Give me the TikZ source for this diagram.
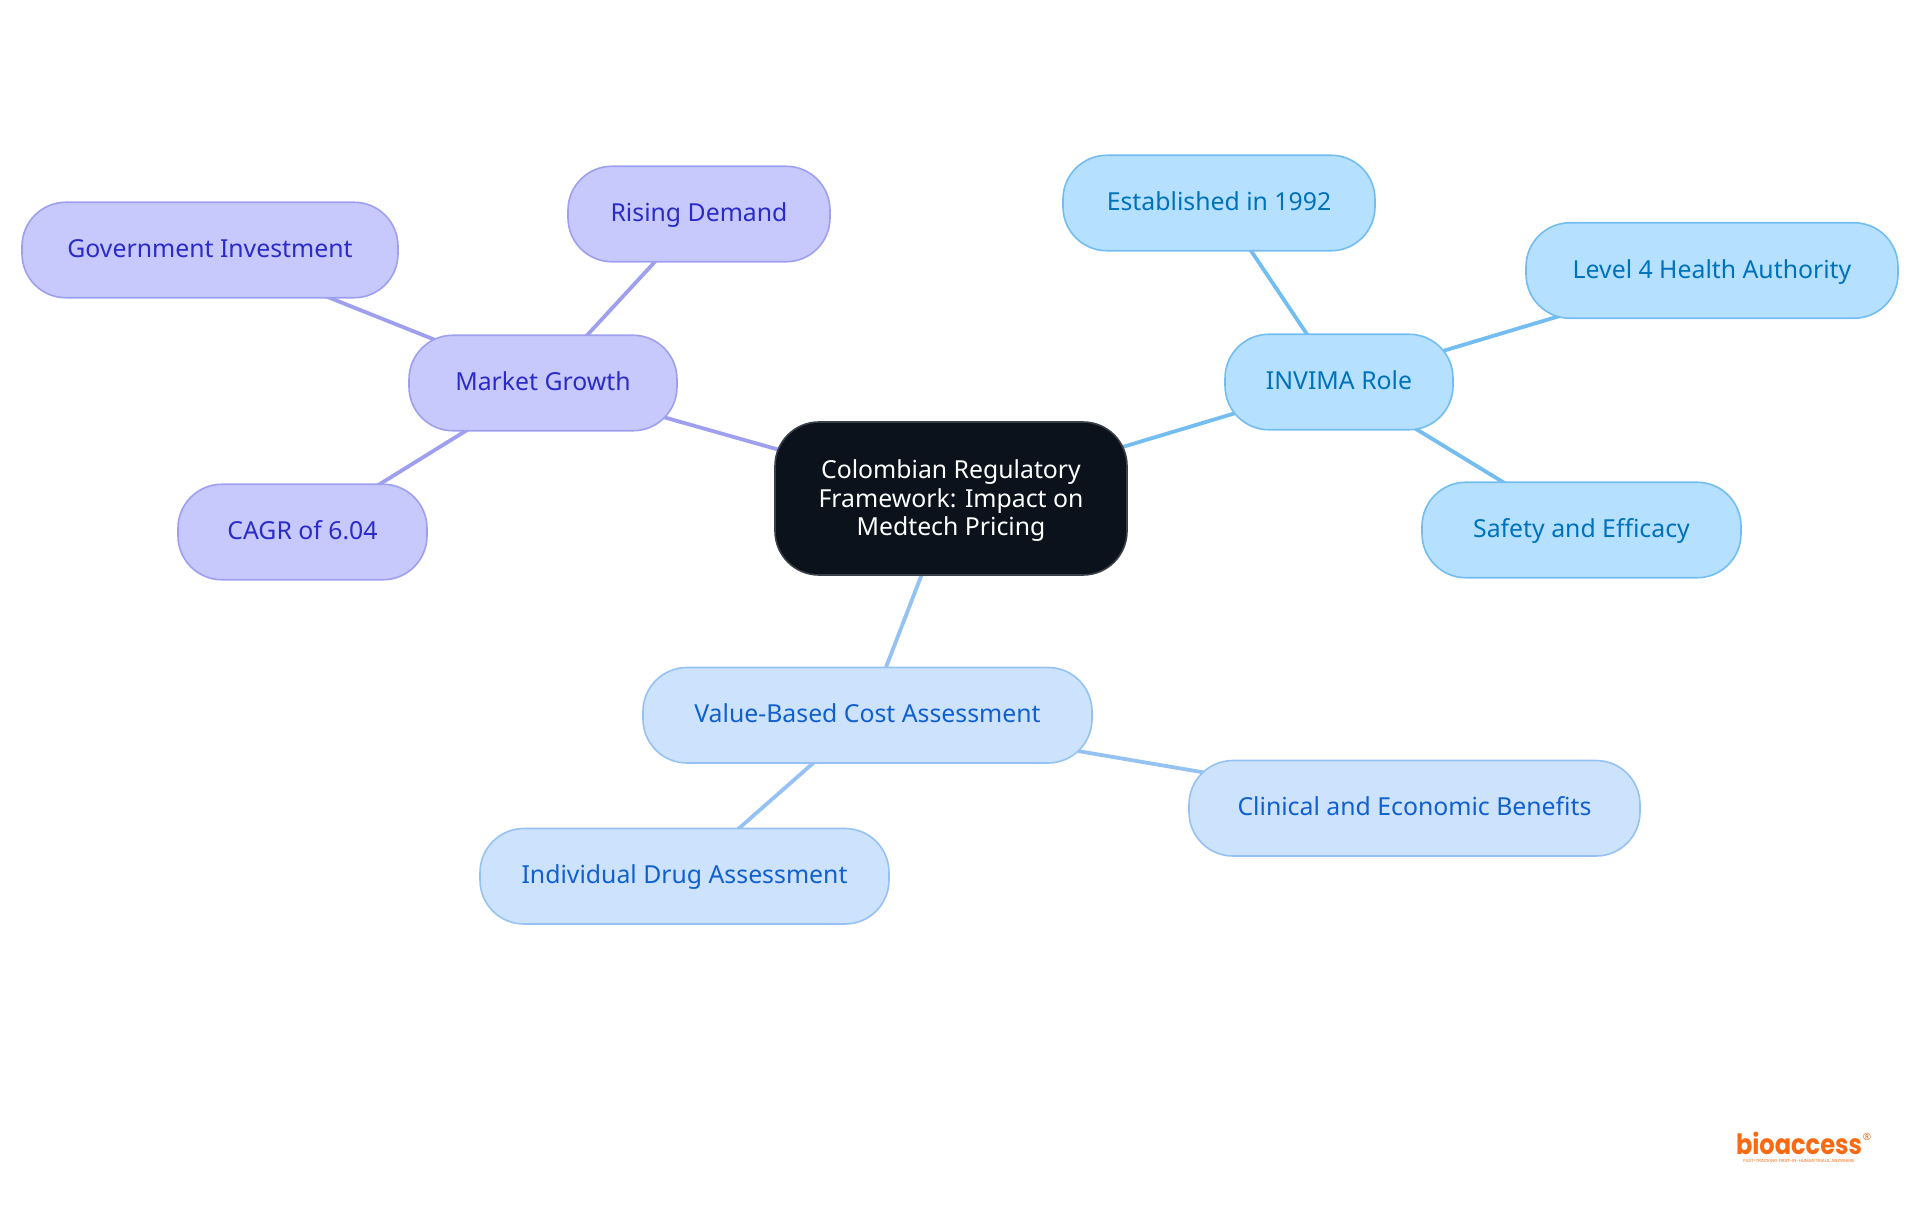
\documentclass[tikz,border=0pt]{standalone}
\usepackage{fontspec}
\setmainfont{Noto Sans}
\newfontfamily\logofont{Poppins}
\usetikzlibrary{positioning}
\usetikzlibrary{backgrounds}
\definecolor{rootfill}{HTML}{0B121B}
\definecolor{rootline}{HTML}{3A4047}
\definecolor{growthfill}{HTML}{C7C9FD}
\definecolor{growthline}{HTML}{9E9FEF}
\definecolor{growthtext}{HTML}{2B2BC8}
\definecolor{invimafill}{HTML}{B5E0FF}
\definecolor{invimaline}{HTML}{74BDF0}
\definecolor{invimatext}{HTML}{0072BC}
\definecolor{valuefill}{HTML}{CDE3FD}
\definecolor{valueline}{HTML}{96C2F3}
\definecolor{valuetext}{HTML}{1060CF}
\definecolor{logoorange}{HTML}{F96A12}
\tikzset{
    mapnode/.style={
        rectangle,rounded corners=44pt,
        fill=#1fill,draw=#1line,text=#1text,
        line width=1.6pt,
        minimum height=95.5pt,
        outer sep=0pt,inner sep=0pt,
        text height=20pt,text depth=4.6pt,
        font=\fontsize{24.8}{28.6}\selectfont,
        },
    rootnode/.style={
        rectangle,rounded corners=44pt,
        fill=rootfill,draw=rootline,text=white,
        line width=1.6pt,
        minimum width=352pt,minimum height=153pt,
        outer sep=0pt,inner sep=0pt,
        align=center,
        font=\fontsize{24.8}{28.6}\selectfont,
        },
    mapline/.style={draw=#1line,line width=3.8pt},
    }

\begin{document}
\begin{tikzpicture}[x=1pt,y=1pt]
    \useasboundingbox (0,0) rectangle (1920,-1215);
    \node[rootnode] (root) at (951,-498.5) {\rule{0pt}{23pt}Colombian Regulatory\\Framework: Impact on\\Medtech Pricing};
    % left branch
    \node[mapnode=growth,minimum width=268pt] (market) [left=98pt of root,yshift=115.5pt] {Market Growth};
    \node[mapnode=growth,minimum width=376pt] (gov) [left=11pt of market,yshift=133pt] {Government Investment};
    \node[mapnode=growth,minimum width=262pt] (rising) [above=73.5pt of market,xshift=156pt] {Rising Demand};
    \node[mapnode=growth,minimum width=249pt] (cagr) [below=53.5pt of market,xshift=-240.5pt] {CAGR of 6.04};
    % right branch
    \node[mapnode=invima,minimum width=228pt] (invima) [right=98pt of root,yshift=116.5pt] {INVIMA Role};
    \node[mapnode=invima,minimum width=312pt] (est) [above=83.5pt of invima,xshift=-120pt] {Established in 1992};
    \node[mapnode=invima,minimum width=372pt] (level) [right=73pt of invima,yshift=111.5pt] {Level 4 Health Authority};
    \node[mapnode=invima,minimum width=319pt] (safety) [below=52.5pt of invima,xshift=242.5pt] {Safety and Efficacy};
    % lower branch
    \node[mapnode=value,minimum width=449pt] (value) [below=92.5pt of root,xshift=-83.5pt] {Value-Based Cost Assessment};
    \node[mapnode=value,minimum width=451pt] (clinical) [right=97pt of value,yshift=-93pt] {Clinical and Economic Benefits};
    \node[mapnode=value,minimum width=409pt] (drug) [below=65.5pt of value,xshift=-183pt] {Individual Drug Assessment};
    % logo
    \node[inner sep=0pt,text=logoorange,font=\logofont\bfseries\fontsize{28}{28}\selectfont,xscale=.86,transform shape,anchor=south] (logo) at (1799,-1155) {bioaccess};
    \node[inner sep=0pt,text=logoorange,font=\logofont\fontsize{4.4}{4.4}\selectfont,below=4pt of logo] (tagline) {FAST-TRACKING FIRST-IN-HUMAN TRIALS, ANYWHERE};
    \node[inner sep=0pt,text=logoorange,font=\fontsize{10}{10}\selectfont,right=0.5pt of logo,yshift=7pt] (regmark) {®};
    \begin{scope}[on background layer]
        \draw[mapline=growth] (root.center) -- (market.center);
        \draw[mapline=growth] (market.center) -- (gov.center);
        \draw[mapline=growth] (market.center) -- (rising.center);
        \draw[mapline=growth] (market.center) -- (cagr.center);
        \draw[mapline=invima] (root.center) -- (invima.center);
        \draw[mapline=invima] (invima.center) -- (est.center);
        \draw[mapline=invima] (invima.center) -- (level.center);
        \draw[mapline=invima] (invima.center) -- (safety.center);
        \draw[mapline=value] (root.center) -- (value.center);
        \draw[mapline=value] (value.center) -- (clinical.center);
        \draw[mapline=value] (value.center) -- (drug.center);
    \end{scope}
\end{tikzpicture}
\end{document}
